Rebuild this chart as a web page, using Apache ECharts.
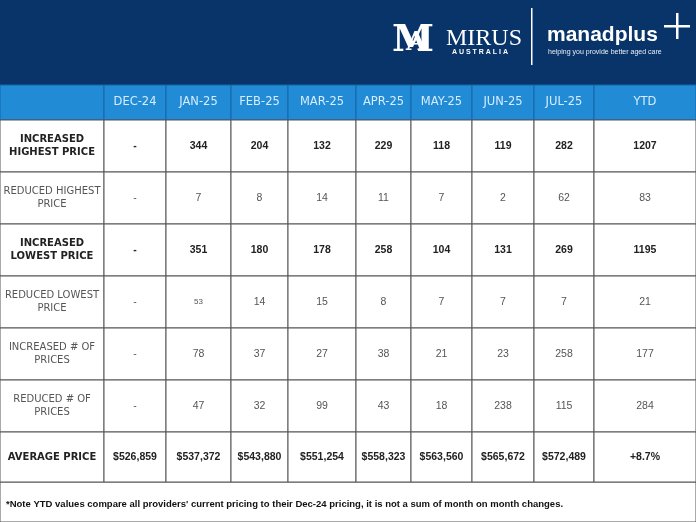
<!DOCTYPE html>
<html><head><meta charset="utf-8">
<script src="https://cdn.jsdelivr.net/npm/echarts@6/dist/echarts.min.js"></script>
<style>html,body{margin:0;padding:0;background:#fff}#c{width:696px;height:522px}</style>
</head><body><div id="c"></div>
<script>
const months = ['DEC-24','JAN-25','FEB-25','MAR-25','APR-25','MAY-25','JUN-25','JUL-25','YTD'];
const rowLabels = ['INCREASED\nHIGHEST PRICE','REDUCED HIGHEST\nPRICE','INCREASED\nLOWEST PRICE','REDUCED LOWEST\nPRICE','INCREASED # OF\nPRICES','REDUCED # OF\nPRICES','AVERAGE PRICE'];
const increasedHighest = ['-','344','204','132','229','118','119','282','1207'];
const reducedHighest = ['-','7','8','14','11','7','2','62','83'];
const increasedLowest = ['-','351','180','178','258','104','131','269','1195'];
const reducedLowest = ['-','53','14','15','8','7','7','7','21'];
const increasedCount = ['-','78','37','27','38','21','23','258','177'];
const reducedCount = ['-','47','32','99','43','18','238','115','284'];
const averagePrice = ['$526,859','$537,372','$543,880','$551,254','$558,323','$563,560','$565,672','$572,489','+8.7%'];
const note = '*Note YTD values compare all providers\' current pricing to their Dec-24 pricing, it is not a sum of month on month changes.';

const rows = [increasedHighest, reducedHighest, increasedLowest, reducedLowest, increasedCount, reducedCount, averagePrice];
const boldRows = [0,2,6];
// layout (pixels)
const colEdges = [0,104,166,231,288,356,411,472,534,594,696];
const rowEdges = [85,120,172,224,276,328,380,432,482];

const data = [];
data.push([0,-1,'','h']);
months.forEach((m,i)=>data.push([i+1,-1,m,'h']));
rows.forEach((r,ri)=>{
  data.push([0,ri,rowLabels[ri], boldRows.includes(ri)?'b':'n']);
  r.forEach((v,ci)=>data.push([ci+1,ri,v, boldRows.includes(ri)?'b':(ri===3&&ci===1?'s':'n')]));
});

function renderItem(params, api){
  const c = api.value(0), r = api.value(1);
  const txt = data[params.dataIndex][2], kind = data[params.dataIndex][3];
  const p0 = api.coord([colEdges[c], rowEdges[r+1]]);
  const p1 = api.coord([colEdges[c+1], rowEdges[r+2]]);
  const x=p0[0], y=p0[1], w=p1[0]-p0[0], h=p1[1]-p0[1];
  const header = kind==='h';
  const label = c===0;
  let font;
  if (header) font = '11.5px "DejaVu Sans",sans-serif';
  else if (kind==='s') font = '8px "Liberation Sans",sans-serif';
  else if (label) font = (kind==='b'?'bold ':'')+'10px "DejaVu Sans",sans-serif';
  else font = (kind==='b'?'bold ':'')+'10.5px "Liberation Sans",sans-serif';
  return {type:'group', children:[
    {type:'rect', shape:{x,y,width:w,height:h},
     style:{fill: header?'#218bd6':'#fff', stroke: header?'#1566a8':'#555', lineWidth:1}},
    {type:'text', style:{x:x+w/2, y:y+h/2, text:txt, align:'center', verticalAlign:'middle',
      fill: header?'#d6ecff':(kind==='b'?'#222':'#555'), font, lineHeight: 13}}
  ]};
}

const chart = echarts.init(document.getElementById('c'));
chart.setOption({
  animation:false,
  grid:{left:0,right:0,top:0,bottom:0},
  xAxis:{type:'value',min:0,max:696,show:false},
  yAxis:{type:'value',min:0,max:522,inverse:true,show:false},
  graphic:[
    {type:'rect',shape:{x:0,y:0,width:696,height:85},style:{fill:'#08346a'}},
    {type:'text',left:392,top:22,style:{text:'M',fill:'#fff',font:'bold 38px "DejaVu Serif",serif'}},
    {type:'text',left:406,top:30,style:{text:'A',fill:'#fff',font:'bold 26px "DejaVu Serif",serif'}},
    {type:'text',left:446,top:27,style:{text:'MIRUS',fill:'#fff',font:'24px "Liberation Serif",serif'}},
    {type:'text',left:452,top:49,style:{text:'A U S T R A L I A',fill:'#fff',font:'bold 7px "Liberation Sans",sans-serif'}},
    {type:'rect',shape:{x:531,y:8,width:1.5,height:57},style:{fill:'#fff'}},
    {type:'text',left:547,top:25,style:{text:'manadplus',fill:'#fff',font:'bold 21px "Liberation Sans",sans-serif'}},
    {type:'text',left:548,top:49,style:{text:'helping you provide better aged care',fill:'#e8eef6',font:'7px "Liberation Sans",sans-serif'}},
    {type:'rect',shape:{x:664,y:25,width:26,height:2.5},style:{fill:'#fff'}},
    {type:'rect',shape:{x:676,y:13,width:2.5,height:26},style:{fill:'#fff'}},
    {type:'rect',shape:{x:0,y:482,width:696,height:40},style:{fill:'#fff',stroke:'#555',lineWidth:1}},
    {type:'text',left:6,top:499,style:{text:note,fill:'#111',font:'bold 9.5px "Liberation Sans",sans-serif'}}
  ],
  series:[{type:'custom',renderItem,data:data.map(d=>[d[0],d[1]]),silent:true}]
});
</script></body></html>
